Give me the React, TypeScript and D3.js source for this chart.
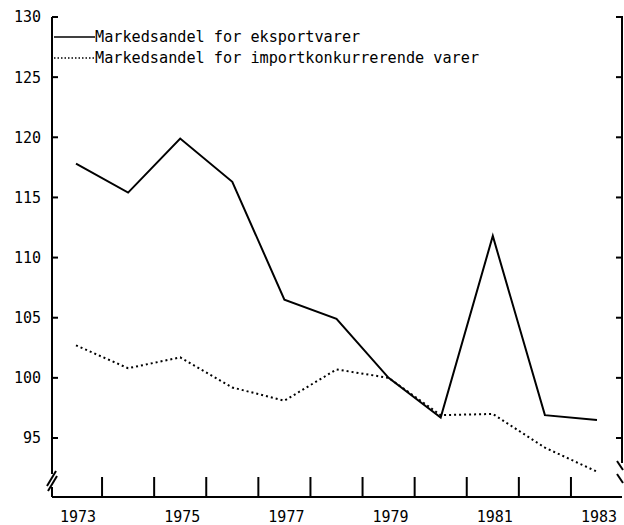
import React, { useEffect, useRef } from "react";
import * as d3 from "d3";

// years on the x axis
const years = [1973, 1974, 1975, 1976, 1977, 1978, 1979, 1980, 1981, 1982, 1983];
// Markedsandel for eksportvarer
const eksport = [117.8, 115.4, 119.9, 116.3, 106.5, 104.9, 100.0, 96.7, 111.8, 96.9, 96.5];
// Markedsandel for importkonkurrerende varer
const importKonk = [102.7, 100.8, 101.7, 99.2, 98.1, 100.7, 100.0, 96.9, 97.0, 94.2, 92.2];

const yTicks = [95, 100, 105, 110, 115, 120, 125, 130];
const xLabels = [1973, 1975, 1977, 1979, 1981, 1983];
const xTicks = [1973.5, 1974.5, 1975.5, 1976.5, 1977.5, 1978.5, 1979.5, 1980.5, 1981.5, 1982.5];

const seriesNames = [
    "Markedsandel for eksportvarer",
    "Markedsandel for importkonkurrerende varer",
];

const FONT = "DejaVu Sans Mono";

export default function App()
{
    const ref = useRef<SVGSVGElement>(null);

    useEffect(() =>
    {
        const svg = d3.select(ref.current);
        svg.selectAll("*").remove();

        const left = 52;
        const right = 622;
        const base = 497;

        const x = d3.scaleLinear().domain([1973, 1983]).range([76, 597]);
        const y = d3.scaleLinear().domain([95, 130]).range([438, 17]);

        const g = svg.append("g")
            .attr("stroke", "#000")
            .attr("fill", "none")
            .attr("stroke-width", 2);

        // left axis with break
        g.append("line").attr("x1", left).attr("x2", left).attr("y1", y(130)).attr("y2", 474);
        g.append("line").attr("x1", left).attr("x2", left).attr("y1", 487).attr("y2", base);
        g.append("line").attr("x1", left - 5).attr("x2", left + 4).attr("y1", 486).attr("y2", 471);
        g.append("line").attr("x1", left - 4).attr("x2", left + 5).attr("y1", 491).attr("y2", 476);

        // right axis with break
        g.append("line").attr("x1", right).attr("x2", right).attr("y1", y(130) - 1).attr("y2", 463);
        g.append("line").attr("x1", right - 5).attr("x2", right + 1).attr("y1", 461).attr("y2", 470);
        g.append("line").attr("x1", right - 5).attr("x2", right + 1).attr("y1", 474).attr("y2", 483);

        // baseline
        g.append("line").attr("x1", left).attr("x2", right).attr("y1", base).attr("y2", base);

        // y ticks, both sides pointing inward
        yTicks.forEach((t) =>
        {
            g.append("line").attr("x1", left).attr("x2", left + 6).attr("y1", y(t)).attr("y2", y(t));
            g.append("line").attr("x1", right - 6).attr("x2", right).attr("y1", y(t)).attr("y2", y(t));
        });

        // x ticks
        xTicks.forEach((t) =>
        {
            g.append("line").attr("x1", x(t)).attr("x2", x(t)).attr("y1", base).attr("y2", base - 20);
        });

        // y labels
        svg.append("g")
            .selectAll("text")
            .data(yTicks)
            .enter()
            .append("text")
            .attr("x", 41)
            .attr("y", (d) => y(d))
            .attr("dy", "0.36em")
            .attr("text-anchor", "end")
            .style("font-family", FONT)
            .style("font-size", "15px")
            .text((d) => d);

        // x labels
        svg.append("g")
            .selectAll("text")
            .data(xLabels)
            .enter()
            .append("text")
            .attr("x", (d) => x(d) + 2)
            .attr("y", 522)
            .attr("text-anchor", "middle")
            .style("font-family", FONT)
            .style("font-size", "15px")
            .text((d) => d);

        const line = d3.line<number>()
            .x((d, i) => x(years[i]))
            .y((d) => y(d));

        svg.append("path")
            .attr("d", line(eksport))
            .attr("fill", "none")
            .attr("stroke", "#000")
            .attr("stroke-width", 2);

        svg.append("path")
            .attr("d", line(importKonk))
            .attr("fill", "none")
            .attr("stroke", "#000")
            .attr("stroke-width", 2)
            .attr("stroke-dasharray", "2,3");

        // legend
        const legend = svg.append("g");
        seriesNames.forEach((name, i) =>
        {
            const ly = 37 + i * 21;
            legend.append("line")
                .attr("x1", 54)
                .attr("x2", 95)
                .attr("y1", ly)
                .attr("y2", ly)
                .attr("stroke", "#000")
                .attr("stroke-width", 1.5)
                .attr("stroke-dasharray", i === 0 ? null : "1.5,2");
            legend.append("text")
                .attr("x", 95)
                .attr("y", ly)
                .attr("dy", "0.33em")
                .style("font-family", FONT)
                .style("font-size", "15.2px")
                .text(name);
        });
    }, []);

    return (
        <svg
            ref={ref}
            width={624}
            height={525}
            style={{ position: "absolute", left: 0, top: 0, background: "#fff" }}
        />
    );
}
